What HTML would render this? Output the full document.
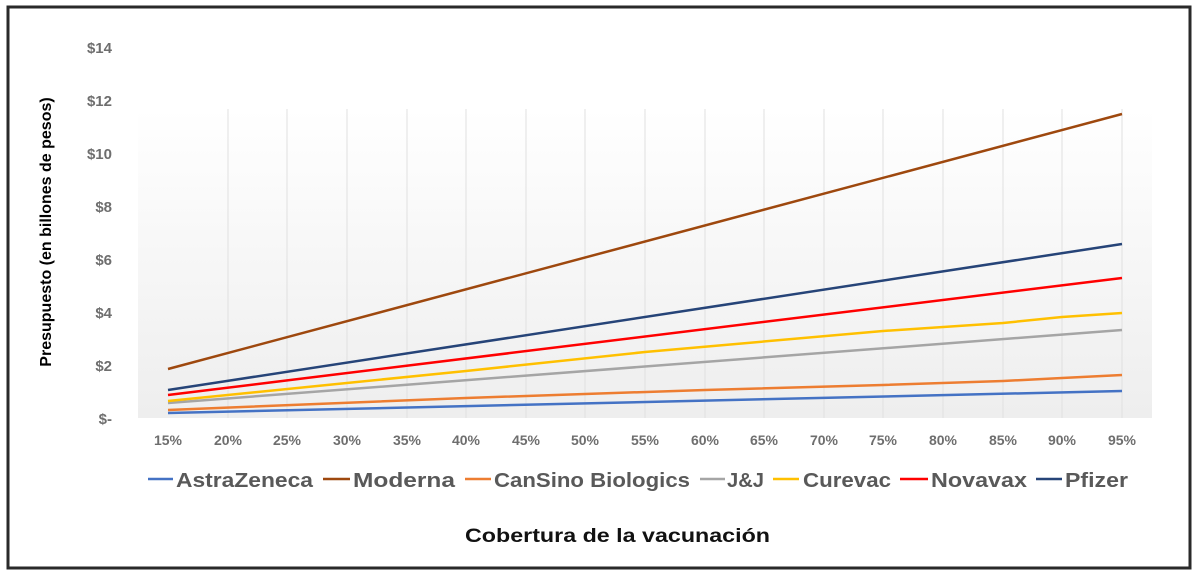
<!DOCTYPE html>
<html><head><meta charset="utf-8"><style>
html,body{margin:0;padding:0;background:#fff;}
svg{display:block;}
</style></head><body>
<svg width="1200" height="579" viewBox="0 0 1200 579" xmlns="http://www.w3.org/2000/svg" font-family="Liberation Sans, DejaVu Sans, sans-serif">
<defs>
<linearGradient id="bg" x1="0" y1="0" x2="0" y2="1">
<stop offset="0" stop-color="#ffffff"/>
<stop offset="1" stop-color="#eeeeee"/>
</linearGradient>
</defs>
<rect x="0" y="0" width="1200" height="579" fill="#fff"/>
<rect x="8" y="7" width="1182" height="561" fill="none" stroke="#2a2a2a" stroke-width="3"/>
<rect x="138" y="109" width="1014" height="309" fill="url(#bg)"/>
<g stroke="#e0e0e0" stroke-width="1">
<line x1="228" y1="109" x2="228" y2="418"/><line x1="287" y1="109" x2="287" y2="418"/><line x1="347" y1="109" x2="347" y2="418"/><line x1="407" y1="109" x2="407" y2="418"/><line x1="466" y1="109" x2="466" y2="418"/><line x1="526" y1="109" x2="526" y2="418"/><line x1="585" y1="109" x2="585" y2="418"/><line x1="645" y1="109" x2="645" y2="418"/><line x1="705" y1="109" x2="705" y2="418"/><line x1="764" y1="109" x2="764" y2="418"/><line x1="824" y1="109" x2="824" y2="418"/><line x1="883" y1="109" x2="883" y2="418"/><line x1="943" y1="109" x2="943" y2="418"/><line x1="1003" y1="109" x2="1003" y2="418"/><line x1="1062" y1="109" x2="1062" y2="418"/><line x1="1122" y1="109" x2="1122" y2="418"/>
</g>
<g fill="#6e6e6e" font-weight="bold" font-size="15" text-anchor="end">
<text x="112" y="53">$14</text><text x="112" y="106">$12</text><text x="112" y="159">$10</text><text x="112" y="212">$8</text><text x="112" y="265">$6</text><text x="112" y="318">$4</text><text x="112" y="371">$2</text><text x="112" y="424">$-</text>
</g>
<g fill="#6e6e6e" font-weight="bold" font-size="14" text-anchor="middle">
<text x="168" y="445">15%</text><text x="228" y="445">20%</text><text x="287" y="445">25%</text><text x="347" y="445">30%</text><text x="407" y="445">35%</text><text x="466" y="445">40%</text><text x="526" y="445">45%</text><text x="585" y="445">50%</text><text x="645" y="445">55%</text><text x="705" y="445">60%</text><text x="764" y="445">65%</text><text x="824" y="445">70%</text><text x="883" y="445">75%</text><text x="943" y="445">80%</text><text x="1003" y="445">85%</text><text x="1062" y="445">90%</text><text x="1122" y="445">95%</text>
</g>
<g fill="none" stroke-width="2.5" stroke-linejoin="round">
<polyline stroke="#4472c4" points="168,413 1122,391"/>
<polyline stroke="#ed7d31" points="168,410 466,398 705,390 883,385 1003,381 1062,378 1122,375"/>
<polyline stroke="#a5a5a5" points="168,403 1122,330"/>
<polyline stroke="#ffc000" points="168,401 466,371 645,352 883,331 1003,323 1062,317 1122,313"/>
<polyline stroke="#ff0000" points="168,395 1122,278"/>
<polyline stroke="#264478" points="168,390 1122,244"/>
<polyline stroke="#9e480e" points="168,369 1122,114"/>
</g>
<text transform="translate(51,232) rotate(-90)" text-anchor="middle" font-weight="bold" font-size="16" fill="#000">Presupuesto (en billones de pesos)</text>
<g stroke-width="2.5">
<line x1="148" y1="479" x2="173" y2="479" stroke="#4472c4"/>
<line x1="323" y1="479" x2="350" y2="479" stroke="#9e480e"/>
<line x1="465" y1="479" x2="491" y2="479" stroke="#ed7d31"/>
<line x1="700" y1="479" x2="725" y2="479" stroke="#a5a5a5"/>
<line x1="773" y1="479" x2="799" y2="479" stroke="#ffc000"/>
<line x1="900" y1="479" x2="928" y2="479" stroke="#ff0000"/>
<line x1="1036" y1="479" x2="1062" y2="479" stroke="#264478"/>
</g>
<g fill="#595959" font-weight="bold" font-size="20">
<text x="176" y="487" textLength="137" lengthAdjust="spacingAndGlyphs">AstraZeneca</text>
<text x="353" y="487" textLength="102" lengthAdjust="spacingAndGlyphs">Moderna</text>
<text x="494" y="487" textLength="196" lengthAdjust="spacingAndGlyphs">CanSino Biologics</text>
<text x="727" y="487" textLength="37" lengthAdjust="spacingAndGlyphs">J&amp;J</text>
<text x="803" y="487" textLength="88" lengthAdjust="spacingAndGlyphs">Curevac</text>
<text x="931" y="487" textLength="96" lengthAdjust="spacingAndGlyphs">Novavax</text>
<text x="1065" y="487" textLength="63" lengthAdjust="spacingAndGlyphs">Pfizer</text>
</g>
<text x="465" y="542" textLength="305" lengthAdjust="spacingAndGlyphs" font-weight="bold" font-size="19" fill="#111">Cobertura de la vacunación</text>
</svg>
</body></html>
